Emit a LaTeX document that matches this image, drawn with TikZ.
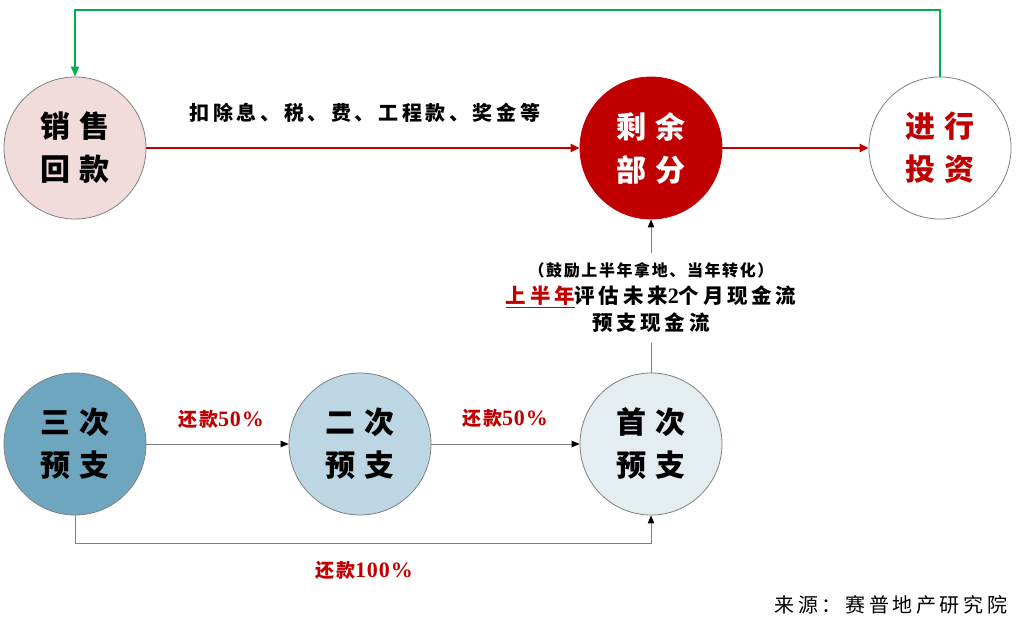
\documentclass[tikz,border=0pt]{standalone}
\usepackage{fontspec}
\usetikzlibrary{arrows.meta}
\newfontfamily\cjk{Noto Sans CJK SC}
\newfontfamily\cjkls{Noto Sans CJK SC}[LetterSpace=18]
\newfontfamily\cjkss{Noto Sans CJK SC}[LetterSpace=10]
\newfontfamily\sernum{Liberation Serif}[LetterSpace=4]
\definecolor{dred}{HTML}{C00000}
\definecolor{pinkfill}{HTML}{F2DCDB}
\definecolor{cthree}{HTML}{6FA6BF}
\definecolor{ctwo}{HTML}{BCD7E3}
\definecolor{cone}{HTML}{E4EDF0}
\definecolor{gline}{HTML}{7F7F7F}
\definecolor{gfill}{HTML}{00B050}
\newcommand{\numtxt}[1]{{\sernum\bfseries\fontsize{22}{24}\selectfont #1}}
\begin{document}
\begin{tikzpicture}[x=1pt,y=-1pt,
  circ/.style={circle,draw=gline,line width=0.8pt,minimum size=142pt,inner sep=0pt,align=center,
    font=\cjk\bfseries\fontsize{30}{43}\selectfont},
  redarr/.style={draw=dred,line width=2.2pt,-{Triangle[length=9pt,width=8pt]}},
  greenarr/.style={draw=gfill,line width=1.8pt,-{Triangle[length=10pt,width=8pt]}},
  grayarr/.style={draw=gline,line width=0.9pt,-{Triangle[length=8pt,width=6.5pt,color=black]}},
  grayline/.style={draw=gline,line width=0.9pt},
  lbl/.style={inner sep=0pt,text=dred,font=\cjkss\bfseries\fontsize{19}{22}\selectfont},
]
\useasboundingbox (0,0) rectangle (1018,637);
\fill[white] (0,0) rectangle (1018,637);

% circles
\node[circ,fill=pinkfill] (xs) at (75,148) {销\hspace{9pt}售\\回\hspace{9pt}款};
\node[circ,fill=dred,draw=dred,text=white] (sy) at (651,148) {剩\hspace{9pt}余\\部\hspace{9pt}分};
\node[circ,fill=white,text=dred] (tz) at (940,148) {进\hspace{9pt}行\\投\hspace{9pt}资};
\node[circ,fill=cthree] (c3) at (75,444) {三\hspace{9pt}次\\预\hspace{9pt}支};
\node[circ,fill=ctwo] (c2) at (360,444) {二\hspace{9pt}次\\预\hspace{9pt}支};
\node[circ,fill=cone] (c1) at (651,444) {首\hspace{9pt}次\\预\hspace{9pt}支};

% coordinates for bends
\coordinate (top) at (0,10);
\coordinate (bot) at (0,543);

% connectors
\draw[redarr] (xs.east) -- (sy.west);
\draw[redarr] (sy.east) -- (tz.west);
\draw[greenarr] (tz.north) -- (tz.north |- top) -| (xs.north);
\draw[grayarr] (c3.east) -- (c2.west);
\draw[grayarr] (c2.east) -- (c1.west);
\draw[grayarr] (c3.south) -- (c3.south |- bot) -| (c1.south);

% middle text
\node[minimum height=90pt,inner sep=0pt,align=center,font=\cjkls\bfseries\fontsize{20.5}{27}\selectfont] (mid) at (651,298)
  {{\cjkss\bfseries\fontsize{16}{27}\selectfont （鼓励上半年拿地、当年转化）}\\
   {\color{dred}\underline{上半年}}评估未来\numtxt{2}个月现金流\\
   预支现金流};
\draw[grayline] (c1.north) -- (mid.south);
\draw[grayarr] (mid.north) -- (sy.south);

% labels
\node[inner sep=0pt,font=\cjkls\bfseries\fontsize{20}{24}\selectfont] (ded) at (365,113) {扣除息、税、费、工程款、奖金等};
\node[lbl] (r1) at (221,419) {还款\numtxt{50\%}};
\node[lbl] (r2) at (505,418) {还款\numtxt{50\%}};
\node[lbl] (r3) at (364,570) {还款\numtxt{100\%}};
\node[inner sep=0pt,font=\cjkls\fontsize{20}{24}\selectfont] (src) at (891,605) {来源：赛普地产研究院};
\end{tikzpicture}
\end{document}
